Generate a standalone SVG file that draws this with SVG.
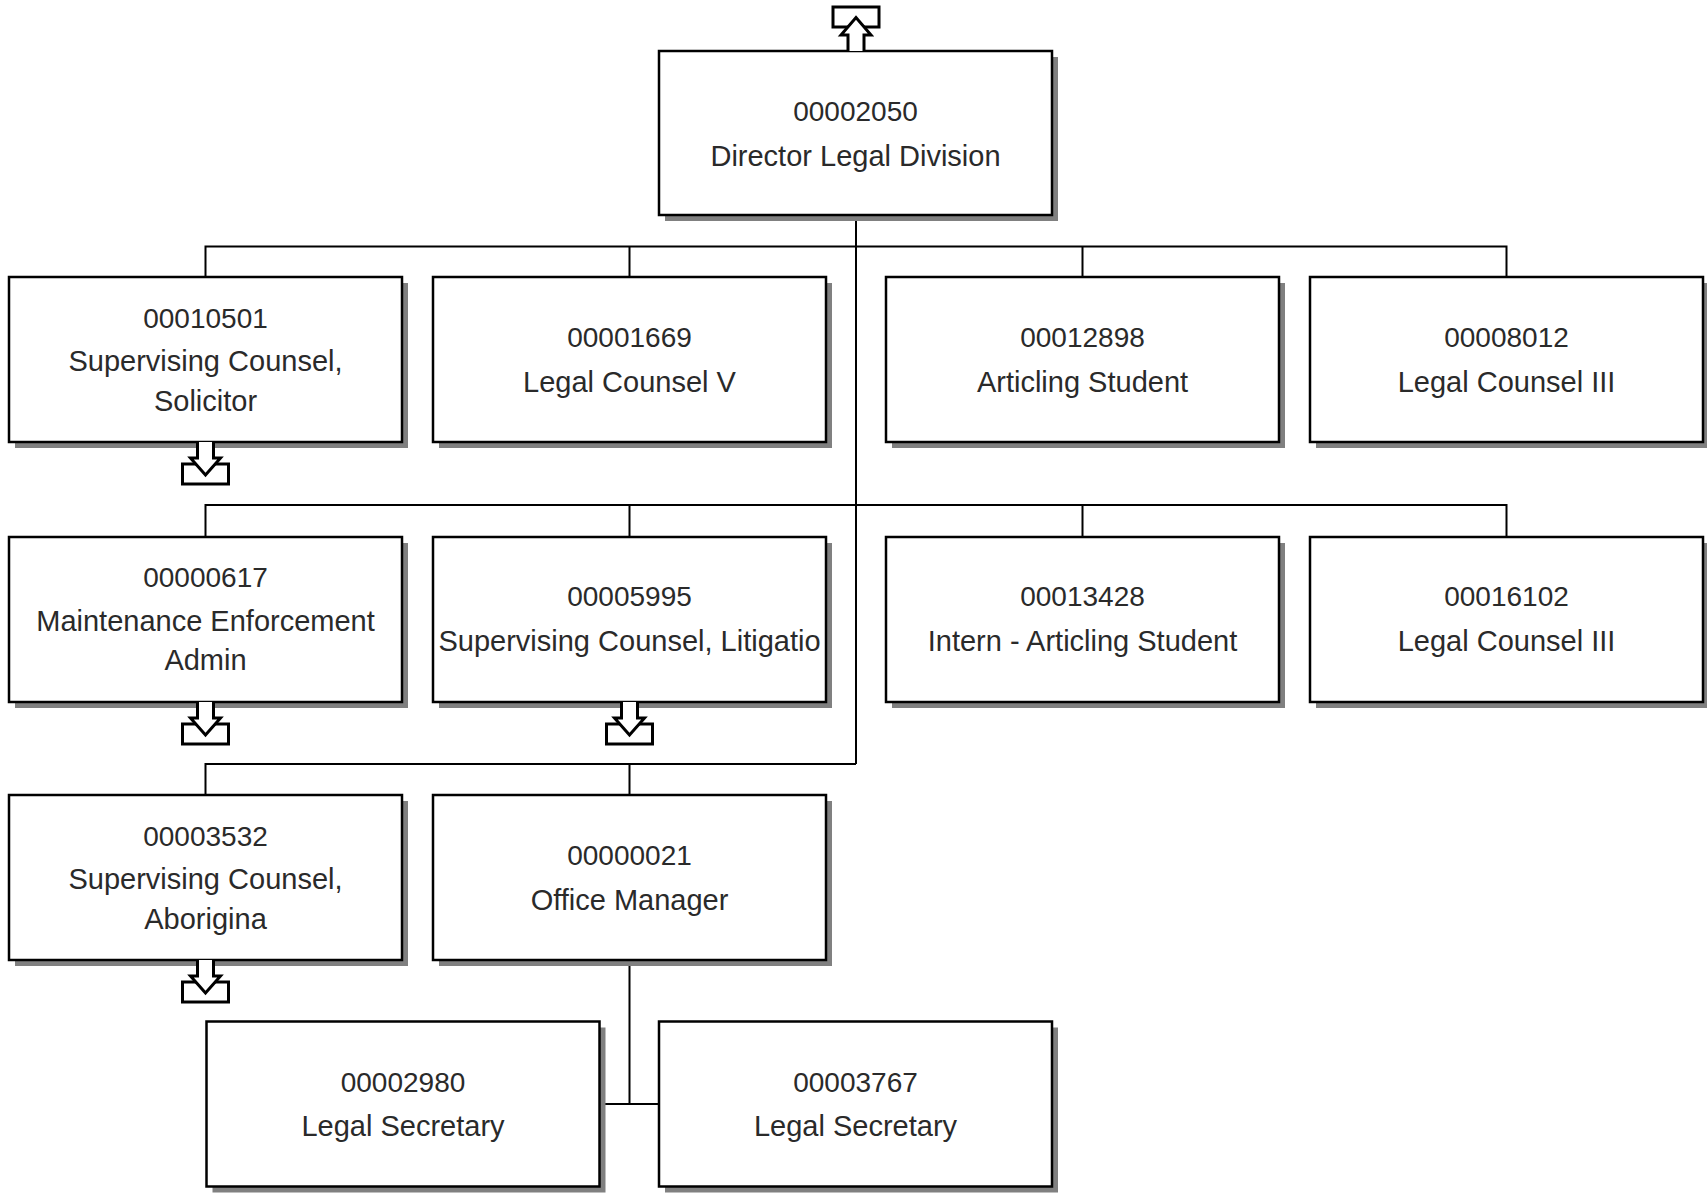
<svg xmlns="http://www.w3.org/2000/svg" xmlns:xlink="http://www.w3.org/1999/xlink" width="1707" height="1193" viewBox="0 0 1707 1193">
<style>
.box{fill:#fff;stroke:#000;stroke-width:2.5}
.sh{fill:#808080}
.t{font-family:"Liberation Sans",Arial,sans-serif;font-size:29px;fill:#2a2a2a;text-anchor:middle}
.id{font-size:28px}
.ln{stroke:#000;stroke-width:2;fill:none}
.ic{fill:#fff;stroke:#000;stroke-width:3}
</style>
<defs>
<g id="down">
<rect class="ic" x="-23" y="22" width="46" height="20"/>
<path class="ic" d="M-8,0 L-8,16 L-15,16 L0,33 L15,16 L8,16 L8,0"/>
</g>
</defs>
<rect width="1707" height="1193" fill="#fff"/>
<g id="connectors">
<path class="ln" d="M856,215 V764"/>
<path class="ln" d="M205.5,277 V246.5 H1506.5 V277 M629.5,246.5 V277 M1082.5,246.5 V277"/>
<path class="ln" d="M205.5,537 V505 H1506.5 V537 M629.5,505 V537 M1082.5,505 V537"/>
<path class="ln" d="M205.5,795 V764 H856 M629.5,764 V795"/>
<path class="ln" d="M629.5,960 V1104 M599.5,1104 H659"/>
</g>
<g id="n00002050">
<rect class="sh" x="665" y="57" width="393" height="164"/>
<rect class="box" x="659" y="51" width="393" height="164"/>
<text class="t id" x="855.5" y="121">00002050</text>
<text class="t" x="855.5" y="166">Director Legal Division</text>
</g>
<g id="up-indicator">
<rect class="ic" x="833" y="7" width="46" height="20"/>
<path class="ic" d="M848,51 L848,35 L841,35 L856,17.5 L871,35 L864,35 L864,51"/>
</g>
<g id="n00010501">
<rect class="sh" x="15" y="283" width="393" height="165"/>
<rect class="box" x="9" y="277" width="393" height="165"/>
<text class="t id" x="205.5" y="328">00010501</text>
<text class="t" x="205.5" y="371">Supervising Counsel,</text>
<text class="t" x="205.5" y="411">Solicitor</text>
<use xlink:href="#down" href="#down" x="205.5" y="442"/>
</g>
<g id="n00001669">
<rect class="sh" x="439" y="283" width="393" height="165"/>
<rect class="box" x="433" y="277" width="393" height="165"/>
<text class="t id" x="629.5" y="347">00001669</text>
<text class="t" x="629.5" y="392">Legal Counsel V</text>
</g>
<g id="n00012898">
<rect class="sh" x="892" y="283" width="393" height="165"/>
<rect class="box" x="886" y="277" width="393" height="165"/>
<text class="t id" x="1082.5" y="347">00012898</text>
<text class="t" x="1082.5" y="392">Articling Student</text>
</g>
<g id="n00008012">
<rect class="sh" x="1316" y="283" width="393" height="165"/>
<rect class="box" x="1310" y="277" width="393" height="165"/>
<text class="t id" x="1506.5" y="347">00008012</text>
<text class="t" x="1506.5" y="392">Legal Counsel III</text>
</g>
<g id="n00000617">
<rect class="sh" x="15" y="543" width="393" height="165"/>
<rect class="box" x="9" y="537" width="393" height="165"/>
<text class="t id" x="205.5" y="587">00000617</text>
<text class="t" x="205.5" y="631">Maintenance Enforcement</text>
<text class="t" x="205.5" y="670">Admin</text>
<use xlink:href="#down" href="#down" x="205.5" y="702"/>
</g>
<g id="n00005995">
<rect class="sh" x="439" y="543" width="393" height="165"/>
<rect class="box" x="433" y="537" width="393" height="165"/>
<text class="t id" x="629.5" y="606">00005995</text>
<text class="t" x="629.5" y="651">Supervising Counsel, Litigatio</text>
<use xlink:href="#down" href="#down" x="629.5" y="702"/>
</g>
<g id="n00013428">
<rect class="sh" x="892" y="543" width="393" height="165"/>
<rect class="box" x="886" y="537" width="393" height="165"/>
<text class="t id" x="1082.5" y="606">00013428</text>
<text class="t" x="1082.5" y="651">Intern - Articling Student</text>
</g>
<g id="n00016102">
<rect class="sh" x="1316" y="543" width="393" height="165"/>
<rect class="box" x="1310" y="537" width="393" height="165"/>
<text class="t id" x="1506.5" y="606">00016102</text>
<text class="t" x="1506.5" y="651">Legal Counsel III</text>
</g>
<g id="n00003532">
<rect class="sh" x="15" y="801" width="393" height="165"/>
<rect class="box" x="9" y="795" width="393" height="165"/>
<text class="t id" x="205.5" y="846">00003532</text>
<text class="t" x="205.5" y="889">Supervising Counsel,</text>
<text class="t" x="205.5" y="929">Aborigina</text>
<use xlink:href="#down" href="#down" x="205.5" y="960"/>
</g>
<g id="n00000021">
<rect class="sh" x="439" y="801" width="393" height="165"/>
<rect class="box" x="433" y="795" width="393" height="165"/>
<text class="t id" x="629.5" y="865">00000021</text>
<text class="t" x="629.5" y="910">Office Manager</text>
</g>
<g id="n00002980">
<rect class="sh" x="212.5" y="1027.5" width="393" height="165"/>
<rect class="box" x="206.5" y="1021.5" width="393" height="165"/>
<text class="t id" x="403" y="1092">00002980</text>
<text class="t" x="403" y="1136">Legal Secretary</text>
</g>
<g id="n00003767">
<rect class="sh" x="665" y="1027.5" width="393" height="165"/>
<rect class="box" x="659" y="1021.5" width="393" height="165"/>
<text class="t id" x="855.5" y="1092">00003767</text>
<text class="t" x="855.5" y="1136">Legal Secretary</text>
</g>
</svg>
